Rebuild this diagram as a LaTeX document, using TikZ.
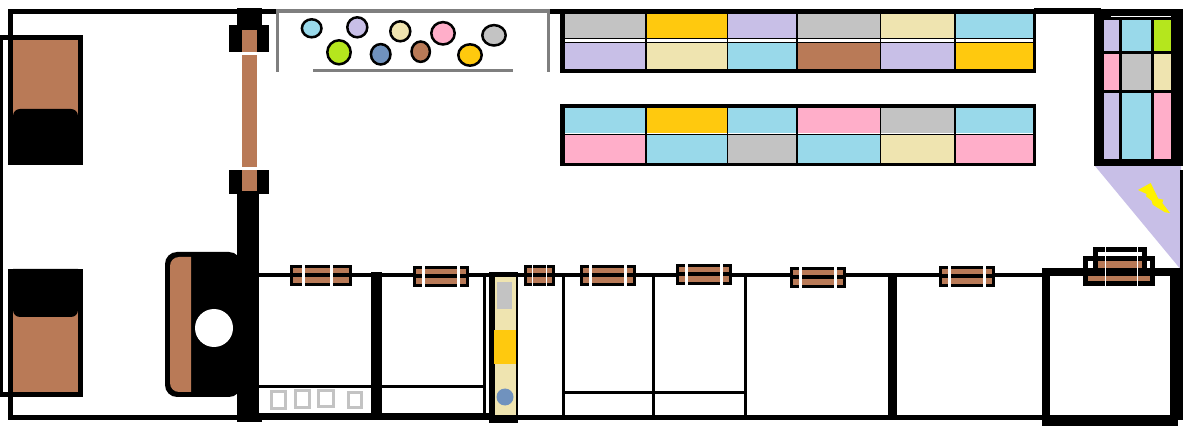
\documentclass[tikz,border=0pt]{standalone}
\usepackage{xcolor}
\definecolor{woodc}{HTML}{B97A57}
\definecolor{lavc}{HTML}{C8BFE7}
\definecolor{bluec}{HTML}{99D9EA}
\definecolor{limec}{HTML}{B5E61D}
\definecolor{pinkc}{HTML}{FFAEC9}
\definecolor{greyc}{HTML}{C3C3C3}
\definecolor{beigec}{HTML}{EFE4B0}
\definecolor{goldc}{HTML}{FFC90E}
\definecolor{steelc}{HTML}{7092BE}
\definecolor{boltc}{HTML}{FFF200}
\definecolor{railc}{HTML}{7F7F7F}
\tikzset{
	wall/.style={fill=black},
	rail/.style={fill=railc},
	wood/.style={fill=woodc},
	ball/.style={draw=black,line width=2.5pt},
	crate/.style={draw=greyc,line width=3pt}
}
\begin{document}
\begin{tikzpicture}[x=1pt,y=-1pt]
	\useasboundingbox (0,0) rectangle (1192,430);
	% outer walls
	\fill[wall] (8,9) rectangle (1036,14);
	\fill[wall] (8,9) rectangle (13,40);
	\fill[wall] (0,35) rectangle (3,397);
	\fill[wall] (0,35) rectangle (8,40);
	\fill[wall] (0,392) rectangle (8,397);
	\fill[wall] (8,392) rectangle (13,420);
	\fill[wall] (8,415) rectangle (1178,420);
	\fill[wall] (259,413) rectangle (489,420);
	\fill[wall] (259,273.5) rectangle (1045,277);
	% beds
	\fill[wall] (8,35) rectangle (83,165);
	\fill[wood] (13,40) rectangle (78,118);
	\fill[wall,rounded corners=7pt] (13,165) -- (13,109) -- (78,109) -- (78,165);
	\fill[wall] (8,269) rectangle (83,397);
	\fill[wood] (13,308) rectangle (78,392);
	\fill[wall,rounded corners=7pt] (13,269) -- (13,317) -- (78,317) -- (78,269);
	% desk
	\fill[wall,rounded corners=12pt] (165,252) rectangle (241,397);
	\fill[wood] (191,257) [rounded corners=9pt] -- (170,257) -- (170,392) [sharp corners] -- (191,392) -- cycle;
	\fill[white] (214,328) circle (19);
	% doorway
	\fill[wall] (237,8) rectangle (262,25);
	\fill[wall] (229,25) rectangle (269,52);
	\fill[wall] (229,170) rectangle (269,194);
	\fill[wall] (237,194) rectangle (259,415);
	\fill[wall] (237,415) rectangle (262,422);
	\fill[wood] (242,30) rectangle (257,52);
	\fill[wood] (242,55) rectangle (257,167);
	\fill[wood] (242,170) rectangle (257,191);
	% rail and balls
	\fill[white] (276,8) rectangle (550,14);
	\fill[rail] (276,9) rectangle (550,13);
	\fill[rail] (276,9) rectangle (279,72);
	\fill[rail] (547,9) rectangle (550,72);
	\fill[rail] (313,69) rectangle (513,72);
	\foreach \bx/\by/\brx/\bry/\bc in {311.7/28.3/9.8/9/bluec,357.3/27.3/10/10/lavc,400.3/31.3/10/10/beigec,
		443/33.3/11.7/11.2/pinkc,494/35.3/11.7/10.2/greyc,339/52.3/11.7/12/limec,
		380.7/54.3/9.8/10.2/steelc,420.7/51.7/9.2/10.2/woodc,470/55/11.7/10.7/goldc}{
		\filldraw[ball,fill=\bc] (\bx,\by) ellipse ({\brx} and {\bry});
	}
	% shelves
	\fill[wall] (560,9) rectangle (1036,73);
	\fill[wall] (560,104) rectangle (1036,166);
	\foreach \xa/\xb/\ca/\cb/\cc/\cd in {565/645/greyc/lavc/bluec/pinkc,646.5/727/goldc/beigec/goldc/bluec,
		728/796/lavc/bluec/bluec/greyc,797.5/880/greyc/woodc/pinkc/bluec,
		881/954/beigec/lavc/greyc/beigec,955.5/1033/bluec/goldc/bluec/pinkc}{
		\fill[fill=\ca] (\xa,14) rectangle (\xb,38);
		\fill[white] (\xa,39) rectangle (\xb,42);
		\fill[fill=\cb] (\xa,43) rectangle (\xb,69);
		\fill[fill=\cc] (\xa,107.7) rectangle (\xb,133);
		\fill[white] (\xa,133.5) rectangle (\xb,134.5);
		\fill[fill=\cd] (\xa,135.5) rectangle (\xb,163);
	}
	% corner cabinet
	\fill[lavc] (1095,166) -- (1181,166) -- (1182,271) -- cycle;
	\fill[boltc] (1138,190) -- (1150.7,183) -- (1158.3,198.7) -- (1163.3,199.7) -- (1162.3,203) -- (1170,213)
		-- (1165,212.3) -- (1152.7,204.7) -- (1151.7,200.7) -- (1146,196.3) -- (1146.7,194) -- cycle;
	\fill[wall] (1180,170) rectangle (1183,270);
	\fill[wall] (1034,8) rectangle (1101,14);
	\fill[wall] (1094,9) rectangle (1183,166);
	\fill[white] (1111,16) rectangle (1171,17);
	\foreach \xa/\xb/\ca/\cb/\cc in {1104/1119/lavc/pinkc/lavc,1122/1151/bluec/greyc/bluec,1154/1171/limec/beigec/pinkc}{
		\fill[fill=\ca] (\xa,20) rectangle (\xb,51);
		\fill[fill=\cb] (\xa,54) rectangle (\xb,90);
		\fill[fill=\cc] (\xa,93) rectangle (\xb,159);
	}
	% room walls
	\fill[wall] (371,272) rectangle (382,420);
	\fill[wall] (888,274) rectangle (897,420);
	\foreach \wx in {483,562,652,744}{
		\fill[wall] (\wx,275) rectangle (\wx+3,415);
	}
	\fill[wall] (259,385) rectangle (371,388);
	\fill[wall] (382,385) rectangle (483,388);
	\fill[wall] (565,391) rectangle (744,394);
	\fill[wall] (1042,268) rectangle (1183,276);
	\fill[wall] (1042,268) rectangle (1050,426);
	\fill[wall] (1170,268) rectangle (1183,420);
	\fill[wall] (1042,415) rectangle (1178,426);
	% crates
	\foreach \cxa/\cya/\cxb/\cyb in {270/390/287/410,294/389/311/409,317/389/335/408,347/391/363/409}{
		\draw[crate] (\cxa+1.5,\cya+1.5) rectangle (\cxb-1.5,\cyb-1.5);
	}
	% column
	\fill[wall] (489,272) rectangle (518,423);
	\fill[fill=beigec] (495,277) rectangle (515.7,415);
	\fill[fill=greyc] (497,282) rectangle (512,309);
	\fill[fill=goldc] (494,330) rectangle (516,364);
	\fill[fill=steelc] (505,397) circle (8.5);
	% windows
	\foreach \xa/\xb/\ya/\ga/\gb/\gw in {290/352/265/302/330/3,413/469/266/422/457/3,524/555/265/532/546/1,
		580/636/265/589/624/3,676/732/264/685/720/3,790/846/267/799/834/3,939/995/266/948/983/3}{
		\fill[wall] (\xa,\ya) rectangle (\xb,\ya+21);
		\fill[wood] (\xa+3,\ya+3) rectangle (\xb-3,\ya+18);
		\fill[wall] (\xa,\ya+8.5) rectangle (\xb,\ya+12);
		\fill[white] (\ga,\ya) rectangle (\ga+\gw,\ya+21);
		\fill[white] (\gb,\ya) rectangle (\gb+\gw,\ya+21);
	}
	% double window
	\fill[wall] (1083,256) rectangle (1155,286);
	\fill[wall] (1093,247) rectangle (1147,286);
	\fill[white] (1098,252) rectangle (1142,256);
	\fill[wood] (1098,261) rectangle (1142,268);
	\fill[wood] (1088,276) rectangle (1150,281);
	\fill[white] (1088,261) rectangle (1093,268);
	\fill[white] (1147,261) rectangle (1150,268);
	\fill[white] (1105.3,247) rectangle (1106.3,286);
	\fill[white] (1137,247) rectangle (1138,286);
\end{tikzpicture}
\end{document}
